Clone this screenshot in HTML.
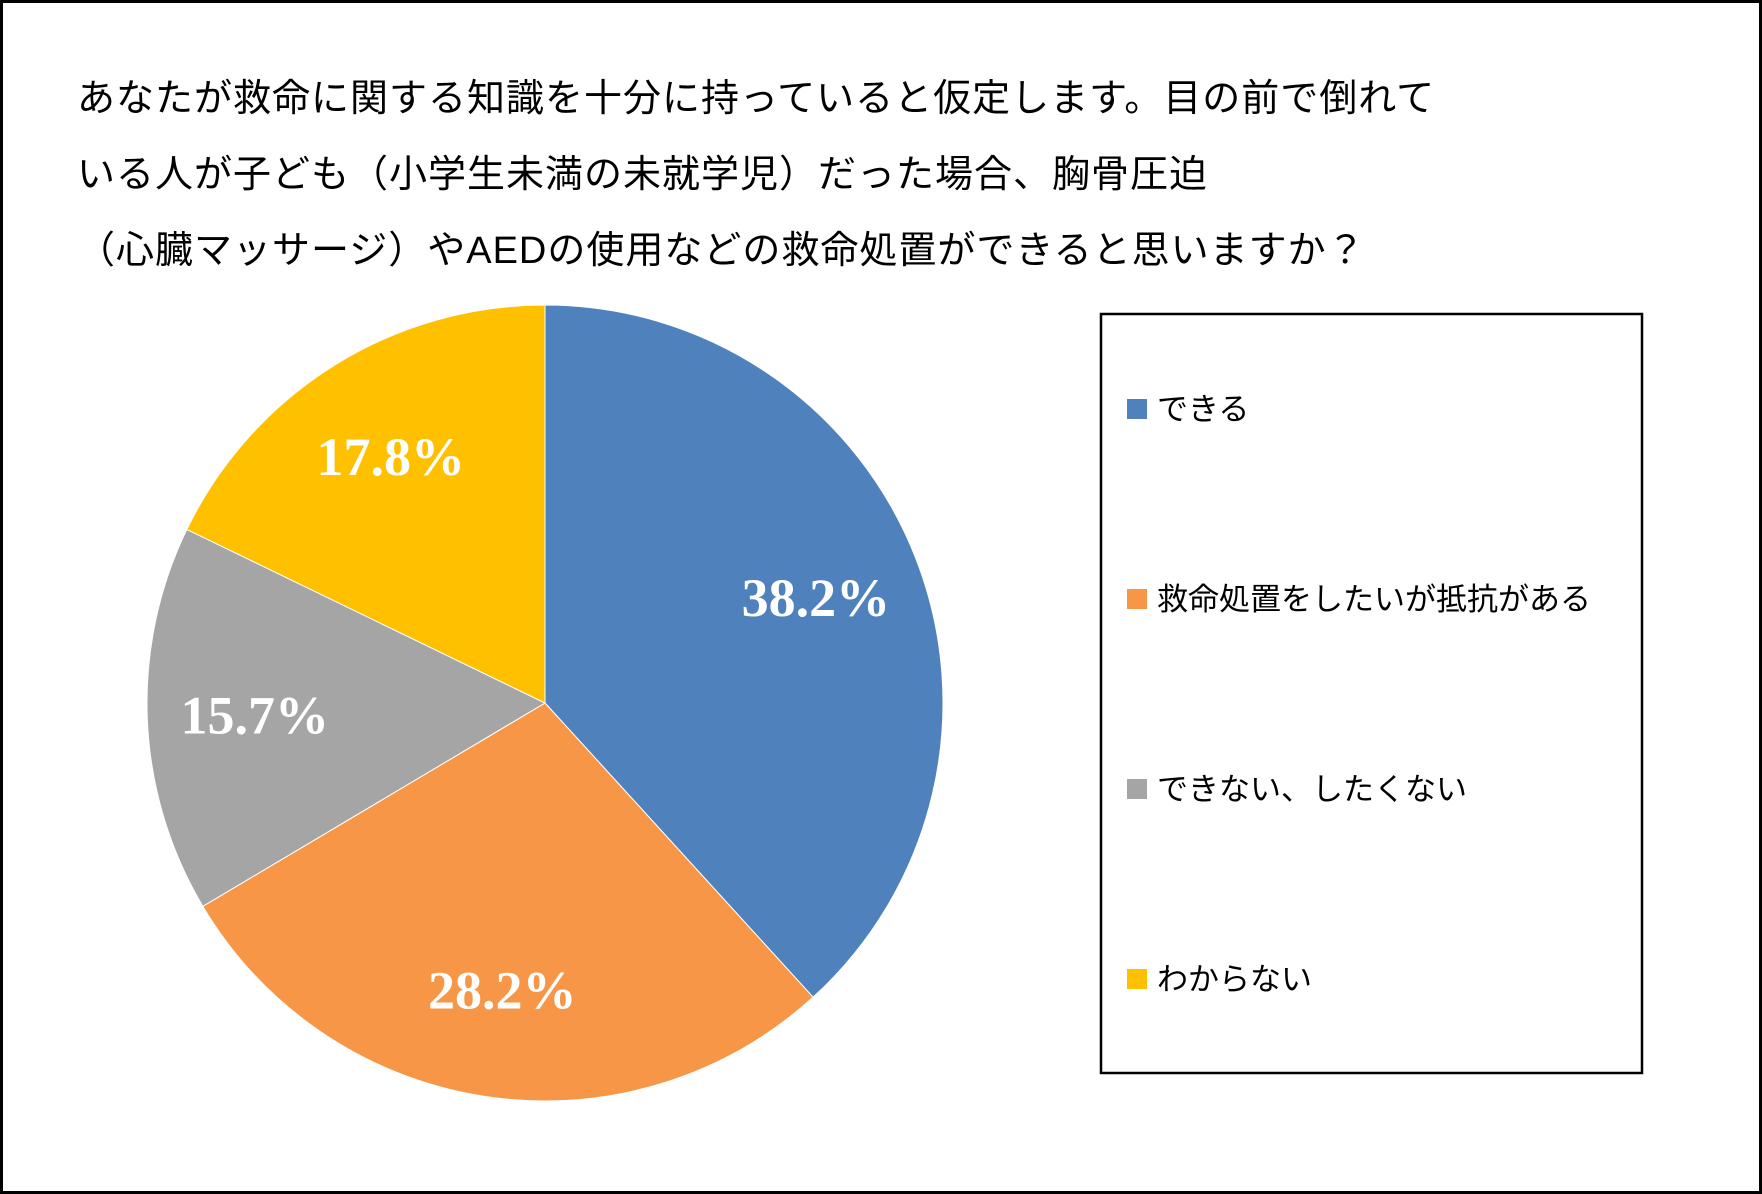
<!DOCTYPE html>
<html><head><meta charset="utf-8">
<style>
body{margin:0;background:#fff;}
#c{position:relative;width:1762px;height:1194px;box-sizing:border-box;border:3px solid #000;background:#fff;overflow:hidden;font-family:"Liberation Sans","Noto Sans CJK JP",sans-serif;}
.t{position:absolute;left:74px;font-size:38px;color:#000;white-space:nowrap;letter-spacing:1px;}
</style></head><body>
<div id="c">
<div class="t" style="top:64px">あなたが救命に関する知識を十分に持っていると仮定します。目の前で倒れて</div>
<div class="t" style="top:140px">いる人が子ども（小学生未満の未就学児）だった場合、胸骨圧迫</div>
<div class="t" style="top:216px">（心臓マッサージ）やAEDの使用などの救命処置ができると思いますか？</div>
<svg id="pie" width="1762" height="1194" style="position:absolute;left:-3px;top:-3px"></svg>
</div>
<script>
const categories=["できる","救命処置をしたいが抵抗がある","できない、したくない","わからない"];
const values=[38.2,28.2,15.7,17.8];
const labels=["38.2%","28.2%","15.7%","17.8%"];
const colors=["#4F81BD","#F79646","#A5A5A5","#FFC000"];
const svg=document.getElementById('pie');
const NS="http://www.w3.org/2000/svg";
const cx=545,cy=703,r=398;
const total=values.reduce((a,b)=>a+b,0);
function pt(a,rr){return [cx+rr*Math.sin(a),cy-rr*Math.cos(a)];}
let acc=0;
values.forEach((v,i)=>{
  const a0=acc/total*2*Math.PI; acc+=v; const a1=acc/total*2*Math.PI;
  const p0=pt(a0,r),p1=pt(a1,r);
  const large=(a1-a0)>Math.PI?1:0;
  const path=document.createElementNS(NS,'path');
  path.setAttribute('d',`M${cx},${cy}L${p0[0]},${p0[1]}A${r},${r} 0 ${large} 1 ${p1[0]},${p1[1]}Z`);
  path.setAttribute('fill',colors[i]);
  path.setAttribute('stroke','#fff');
  path.setAttribute('stroke-width','1');
  
  
  svg.appendChild(path);
  const m=(a0+a1)/2; const lp=pt(m,r*0.73);
  const t=document.createElementNS(NS,'text');
  t.setAttribute('x',lp[0]);t.setAttribute('y',lp[1]+18);
  t.setAttribute('text-anchor','middle');
  t.setAttribute('fill','#fff');
  t.setAttribute('font-family','"Liberation Serif",serif');
  t.setAttribute('font-weight','bold');
  t.setAttribute('font-size','54');
  t.textContent=labels[i];
  
  
  svg.appendChild(t);
});
// legend
const lg=document.createElementNS(NS,'rect');
lg.setAttribute('x',1101);lg.setAttribute('y',314);lg.setAttribute('width',541);lg.setAttribute('height',759);
lg.setAttribute('fill','#fff');lg.setAttribute('stroke','#000');lg.setAttribute('stroke-width','2.5');


svg.appendChild(lg);
const ly0=409,lstep=190;
categories.forEach((c,i)=>{
  const y=ly0+i*lstep;
  const s=document.createElementNS(NS,'rect');
  s.setAttribute('x',1127);s.setAttribute('y',y-10);s.setAttribute('width',20);s.setAttribute('height',20);
  s.setAttribute('fill',colors[i]);
  
  
  svg.appendChild(s);
  const t=document.createElementNS(NS,'text');
  t.setAttribute('x',1157);t.setAttribute('y',y+11);
  t.setAttribute('font-family','"Liberation Sans","Noto Sans CJK JP",sans-serif');
  t.setAttribute('font-size','31');t.setAttribute('fill','#000');
  t.textContent=c;
  
  
  svg.appendChild(t);
});
</script>
</body></html>
